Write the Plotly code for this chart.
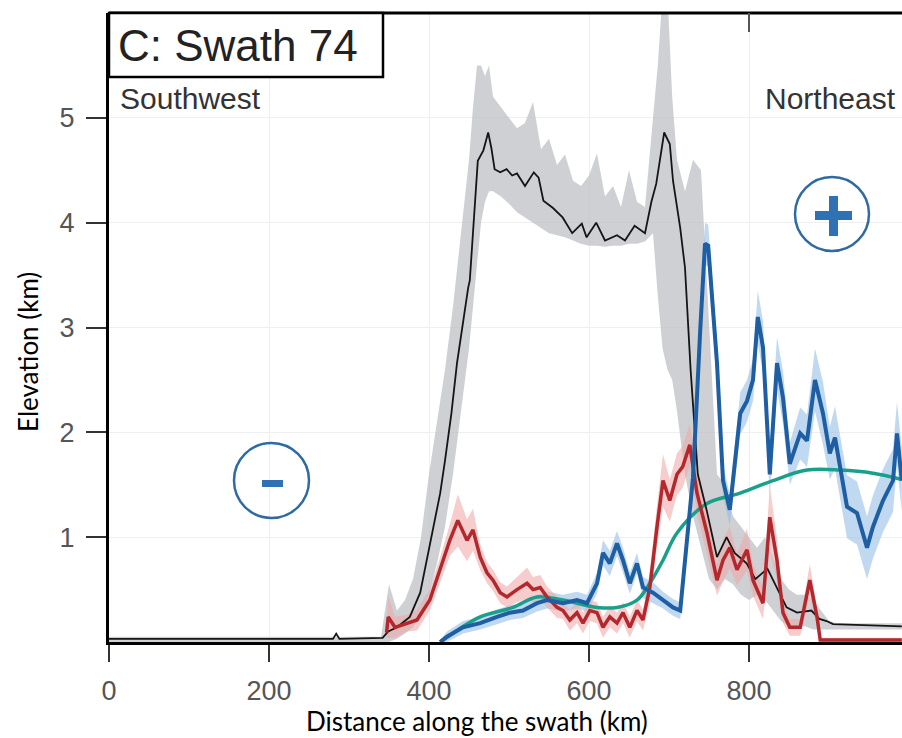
import plotly.graph_objects as go

# ---------------- data ----------------
# mean elevation (black) and its grey envelope
black_x = [0, 280, 284, 288, 342, 349, 360, 376, 389, 397, 405, 414, 420, 428, 435, 439, 445, 449, 451, 455,
           461, 468, 474, 478, 482, 489, 497, 504, 510, 520, 531, 537, 543, 555, 567, 579, 591, 597, 609, 620,
           628, 635, 645, 657, 670, 678, 684, 694, 701, 705, 714, 720, 727, 736, 747, 760, 772, 782, 797, 808,
           823, 833, 847, 860, 878, 888, 897, 905, 991]
black_y = [0.03, 0.03, 0.08, 0.03, 0.04, 0.1, 0.14, 0.24, 0.47, 0.78, 1.1, 1.42, 1.73, 2.18, 2.66, 2.88, 3.19, 3.38, 3.45, 3.92,
           4.59, 4.69, 4.86, 4.71, 4.51, 4.48, 4.51, 4.45, 4.47, 4.35, 4.48, 4.43, 4.21, 4.14, 4.05, 3.9, 3.99, 3.86, 4.0, 3.83,
           3.86, 3.88, 3.83, 3.97, 3.9, 4.2, 4.37, 4.86, 4.75, 4.4, 3.95, 3.57, 2.6, 1.6, 1.26, 0.81, 1.0, 0.85, 0.75, 0.6,
           0.7, 0.55, 0.33, 0.28, 0.3, 0.22, 0.2, 0.17, 0.15]

grey_x = [0, 340, 345, 350, 360, 370, 380, 390, 400, 410, 420, 430, 440, 450, 455, 460, 465, 470, 475, 480,
          490, 500, 510, 520, 530, 540, 550, 560, 570, 580, 590, 600, 610, 620, 630, 640, 650, 660, 670, 680,
          686, 692, 698, 704, 710, 720, 730, 740, 750, 760, 770, 780, 790, 800, 810, 820, 830, 840, 850, 860,
          870, 880, 890, 900, 910, 991]
grey_upper = [0.05, 0.05, 0.3, 0.55, 0.3, 0.4, 0.6, 1.0, 1.6, 2.1, 2.6, 3.2, 3.9, 4.6, 5.1, 5.5, 5.5, 5.4, 5.5, 5.2,
              5.1, 5.0, 4.9, 4.95, 5.15, 4.7, 4.8, 4.55, 4.65, 4.4, 4.35, 4.45, 4.66, 4.25, 4.35, 4.15, 4.5, 4.2, 4.15, 5.0,
              5.5, 6.2, 6.2, 5.2, 4.6, 4.3, 4.6, 4.5, 3.0, 1.6, 1.5, 1.2, 1.1, 1.0, 0.9, 1.0, 0.8, 0.6, 0.5, 0.45,
              0.45, 0.4, 0.3, 0.2, 0.18, 0.18]
grey_lower = [0, 0, 0, 0, 0.03, 0.08, 0.14, 0.25, 0.45, 0.75, 1.1, 1.6, 2.2, 2.8, 3.2, 3.6, 4.0, 4.2, 4.3, 4.3,
              4.25, 4.18, 4.1, 4.05, 4.0, 3.95, 3.9, 3.88, 3.86, 3.83, 3.8, 3.78, 3.78, 3.77, 3.78, 3.78, 3.8, 3.8, 3.82, 3.9,
              3.3, 2.8, 2.6, 2.5, 2.2, 1.6, 1.2, 0.9, 0.6, 0.5, 0.6, 0.55, 0.45, 0.4, 0.45, 0.4, 0.3, 0.2, 0.15, 0.15,
              0.15, 0.12, 0.12, 0.12, 0.12, 0.12]

# red series
red_x = [347, 349, 357.5, 372.5, 385, 401, 414, 426, 436, 447.5, 455, 464, 472.5, 480, 489, 497.5, 510, 522.5, 530, 539,
         547.5, 560, 567.5, 576, 585, 592.5, 601, 610, 617.5, 626, 635, 642.5, 651, 660, 667.5, 676, 685, 692.5, 701, 710,
         717, 726, 735, 747.5, 760, 767.5, 776, 785, 797.5, 805, 817.5, 826, 835, 842.5, 851, 864, 876, 885, 889, 991]
red_y = [0.09, 0.24, 0.14, 0.18, 0.21, 0.4, 0.69, 0.97, 1.16, 0.97, 1.07, 0.81, 0.66, 0.59, 0.47, 0.43, 0.5, 0.56, 0.5, 0.52,
         0.43, 0.33, 0.3, 0.21, 0.28, 0.18, 0.3, 0.28, 0.14, 0.24, 0.18, 0.28, 0.14, 0.3, 0.21, 0.52, 1.1, 1.54, 1.35, 1.6,
         1.67, 1.88, 1.42, 1.04, 0.59, 0.78, 0.9, 0.69, 0.88, 0.59, 0.37, 1.19, 0.78, 0.28, 0.14, 0.14, 0.59, 0.24, 0.02, 0.02]
red_spread = [0.05, 0.2, 0.1, 0.08, 0.1, 0.1, 0.12, 0.15, 0.25, 0.2, 0.2, 0.12, 0.1, 0.1, 0.1, 0.1, 0.12, 0.15, 0.12, 0.12,
              0.1, 0.1, 0.08, 0.1, 0.1, 0.1, 0.1, 0.1, 0.1, 0.1, 0.1, 0.1, 0.1, 0.1, 0.1, 0.15, 0.2, 0.25, 0.2, 0.2,
              0.2, 0.2, 0.2, 0.2, 0.15, 0.2, 0.2, 0.15, 0.2, 0.15, 0.15, 0.3, 0.2, 0.1, 0.08, 0.08, 0.15, 0.1, 0.02, 0.02]

# blue series
blue_x = [414, 422.5, 442.5, 464, 485, 501, 517.5, 535, 547.5, 567.5, 585, 597.5, 610, 617.5, 626, 635, 642.5, 651, 660, 667.5,
          680, 692.5, 705, 714, 722.5, 730, 739, 745, 749, 760, 767.5, 776, 789, 797.5, 805, 811, 817.5, 826, 835, 842.5,
          851, 864, 872.5, 882.5, 892.5, 901, 907.5, 914, 922.5, 935, 947.5, 955, 967.5, 980, 985, 991]
blue_y = [0.0, 0.05, 0.14, 0.18, 0.24, 0.28, 0.3, 0.37, 0.4, 0.37, 0.4, 0.37, 0.56, 0.85, 0.75, 0.94, 0.78, 0.56, 0.75, 0.52,
          0.47, 0.4, 0.33, 0.3, 0.94, 1.57, 2.97, 3.8, 3.78, 2.66, 1.54, 1.26, 2.18, 2.3, 2.5, 3.1, 2.81, 1.6, 2.66, 2.33,
          1.7, 1.99, 1.92, 2.5, 2.18, 1.8, 1.95, 1.67, 1.29, 1.23, 0.9, 1.1, 1.35, 1.54, 1.99, 1.54]
blue_spread = [0.02, 0.05, 0.06, 0.06, 0.07, 0.07, 0.07, 0.08, 0.08, 0.08, 0.08, 0.08, 0.1, 0.12, 0.12, 0.12, 0.12, 0.1, 0.1, 0.1,
               0.1, 0.08, 0.08, 0.08, 0.12, 0.15, 0.2, 0.2, 0.2, 0.2, 0.15, 0.15, 0.2, 0.2, 0.2, 0.25, 0.25, 0.2, 0.25, 0.25,
               0.2, 0.25, 0.25, 0.3, 0.3, 0.25, 0.3, 0.3, 0.3, 0.3, 0.3, 0.3, 0.3, 0.3, 0.3, 0.3]

# green series
green_x = [414, 435, 464, 505, 535, 567.5, 610, 635, 660, 676, 692.5, 710, 747.5, 789, 830, 872.5, 914, 955, 991]
green_y = [0.0, 0.11, 0.24, 0.33, 0.43, 0.4, 0.33, 0.33, 0.4, 0.56, 0.78, 1.04, 1.32, 1.42, 1.54, 1.64, 1.64, 1.61, 1.55]

x_ticks = [0, 200, 400, 600, 800]
y_ticks = [1, 2, 3, 4, 5]

# ---------------- geometry helpers (page pixel -> paper) ----------------
W, H = 902, 738
L, R, T = 109, 0, 13
B = H - 642
PW, PH = W - L - R, H - T - B
X_MAX = PW / 0.8             # 0.8 px per km, as in the reference


def px(x):
    return (x - L) / PW


def py(y):
    return (H - B - y) / PH


def band(xs, up, lo, color, name):
    return go.Scatter(x=list(xs) + list(xs)[::-1], y=list(up) + list(lo)[::-1], fill="toself",
                      fillcolor=color, line=dict(width=0), mode="lines", hoverinfo="skip",
                      showlegend=False, name=name)


fig = go.Figure()
fig.add_trace(band(grey_x, grey_upper, grey_lower, "rgba(190,192,196,0.75)", "grey band"))
fig.add_trace(band(blue_x, [a + s for a, s in zip(blue_y, blue_spread)],
                   [max(a - s, 0) for a, s in zip(blue_y, blue_spread)], "rgba(150,190,230,0.6)", "blue band"))
fig.add_trace(band(red_x, [a + s for a, s in zip(red_y, red_spread)],
                   [max(a - s, 0) for a, s in zip(red_y, red_spread)], "rgba(240,170,170,0.6)", "red band"))
fig.add_trace(go.Scatter(x=green_x, y=green_y, mode="lines", line=dict(color="#1aa08a", width=3.5, shape="spline"),
                         showlegend=False))
fig.add_trace(go.Scatter(x=black_x, y=black_y, mode="lines", line=dict(color="#151515", width=1.8),
                         showlegend=False))
fig.add_trace(go.Scatter(x=red_x, y=red_y, mode="lines", line=dict(color="#b3282d", width=3.5),
                         showlegend=False))
fig.add_trace(go.Scatter(x=blue_x, y=blue_y, mode="lines", line=dict(color="#1e5ea3", width=4),
                         showlegend=False))

tick_font = dict(family="Liberation Sans, Arial, sans-serif", size=27, color="#555555")
fig.update_layout(
    width=W, height=H, margin=dict(l=L, r=R, t=T, b=B),
    plot_bgcolor="white", paper_bgcolor="white", showlegend=False,
    xaxis=dict(range=[0, X_MAX], tickvals=x_ticks, ticks="outside", ticklen=17, tickwidth=2, tickcolor="#333",
               showline=True, linewidth=3, linecolor="black", showgrid=True, gridcolor="#efefef", gridwidth=1,
               zeroline=False, tickfont=tick_font, ticklabelstandoff=6),
    yaxis=dict(range=[0, 6], tickvals=y_ticks, ticks="outside", ticklen=20, tickwidth=2, tickcolor="#333",
               showline=True, linewidth=3, linecolor="black", showgrid=True, gridcolor="#efefef", gridwidth=1,
               zeroline=False, tickfont=tick_font, ticklabelstandoff=6),
)

blue_mark = "#2f6aa3"
blue_fill = "#2e72b5"
shapes = [
    dict(type="line", xref="paper", yref="paper", x0=0, x1=1, y0=1, y1=1, line=dict(color="black", width=3)),
    dict(type="line", xref="x", yref="paper", x0=800, x1=800, y0=1, y1=py(32), line=dict(color="#555", width=2)),
    dict(type="rect", xref="paper", yref="paper", x0=0, x1=px(383), y0=py(77), y1=1,
         line=dict(color="black", width=2.5), fillcolor="white"),
    dict(type="circle", xref="paper", yref="paper", x0=px(234), x1=px(309), y0=py(518), y1=py(443),
         line=dict(color=blue_mark, width=2.5)),
    dict(type="rect", xref="paper", yref="paper", x0=px(262), x1=px(283), y0=py(487), y1=py(480),
         line=dict(width=0), fillcolor=blue_fill),
    dict(type="circle", xref="paper", yref="paper", x0=px(795), x1=px(869), y0=py(251), y1=py(177),
         line=dict(color=blue_mark, width=2.5)),
    dict(type="rect", xref="paper", yref="paper", x0=px(815), x1=px(852), y0=py(220), y1=py(211),
         line=dict(width=0), fillcolor=blue_fill),
    dict(type="rect", xref="paper", yref="paper", x0=px(829), x1=px(838), y0=py(236), y1=py(196),
         line=dict(width=0), fillcolor=blue_fill),
]
fig.update_layout(shapes=shapes)

annotations = [
    dict(text="C: Swath 74", xref="paper", yref="paper", x=px(116), y=py(45), xanchor="left", yanchor="middle",
         showarrow=False, font=dict(family="Liberation Sans, Arial, sans-serif", size=44, color="#222")),
    dict(text="Southwest", xref="paper", yref="paper", x=px(118), y=py(99), xanchor="left", yanchor="middle",
         showarrow=False, font=dict(family="Liberation Sans, Arial, sans-serif", size=30, color="#333")),
    dict(text="Northeast", xref="paper", yref="paper", x=px(898), y=py(99), xanchor="right", yanchor="middle",
         showarrow=False, font=dict(family="Liberation Sans, Arial, sans-serif", size=30, color="#333")),
    dict(text="Distance along the swath (km)", xref="paper", yref="paper", x=px(477), y=py(721),
         xanchor="center", yanchor="middle", showarrow=False,
         font=dict(family="Lato, Carlito, Calibri, sans-serif", size=26, color="black")),
    dict(text="Elevation (km)", xref="paper", yref="paper", x=px(28), y=py(352), textangle=-90,
         xanchor="center", yanchor="middle", showarrow=False,
         font=dict(family="Lato, Carlito, Calibri, sans-serif", size=26, color="black")),
]
fig.update_layout(annotations=annotations)

fig.write_html("out.html", config={"displayModeBar": False},
               post_script="document.body.style.margin='0';document.body.style.overflow='hidden';")
